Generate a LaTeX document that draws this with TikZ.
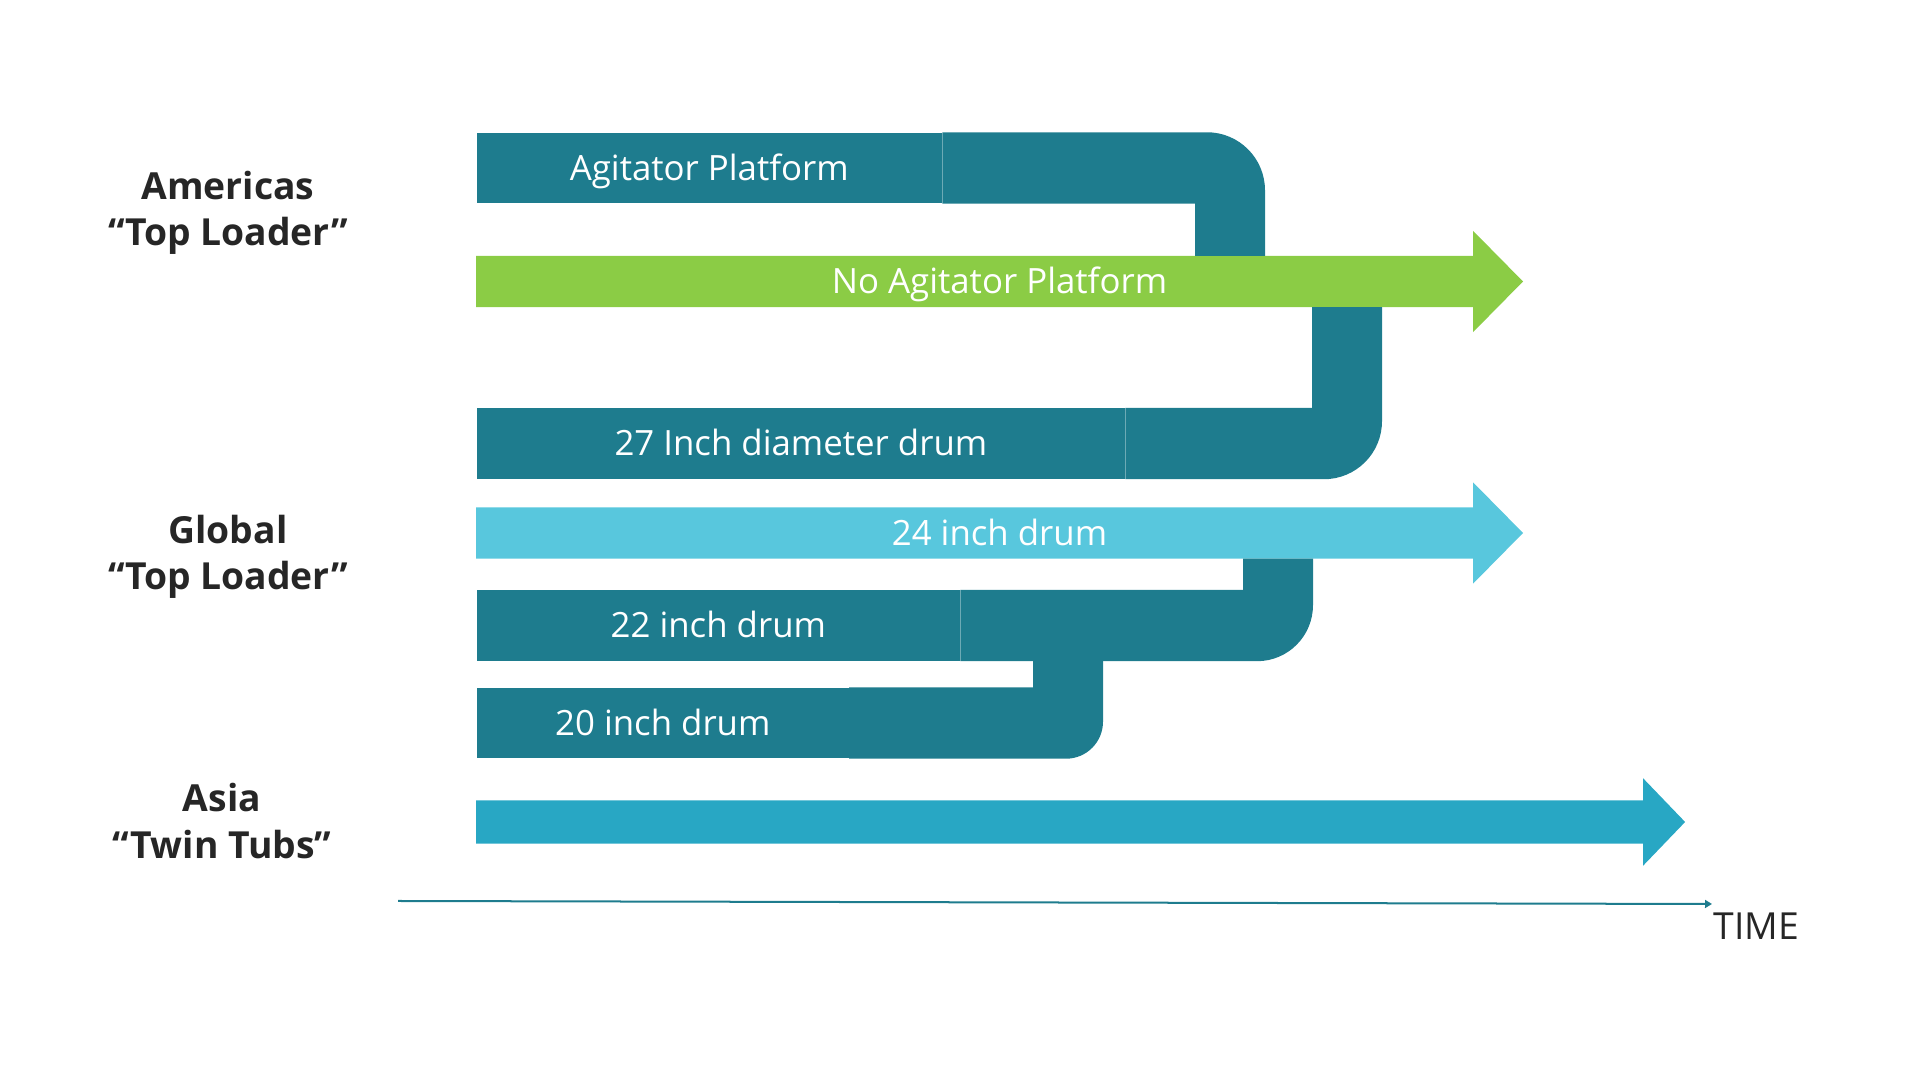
\documentclass[tikz,border=0pt]{standalone}
\usepackage{fontspec}
\setmainfont{Open Sans}
\usetikzlibrary{backgrounds,calc}
\usetikzlibrary{arrows.meta}
\definecolor{pipeteal}{RGB}{30,124,142}
\definecolor{leafgreen}{RGB}{139,204,69}
\definecolor{skycyan}{RGB}{88,199,221}
\definecolor{tubcyan}{RGB}{40,167,196}
\definecolor{labelgray}{RGB}{38,38,38}
\newcommand{\barfont}{\fontsize{9.9}{12}\selectfont}
\newcommand{\flowarrow}[4]{\fill[#2] (#1.south west) -- (#1.north west) -- ($(#1.north east)-(#3,0)$) -- ++(0,#4) -- (#1.east) -- ($(#1.south east)-(#3,#4)$) -- ++(0,#4) -- cycle;}
\newcommand{\pipedown}[5]{\fill[pipeteal] ($(#1.south east)-(0.4,0)$) -- ($(#1.north east)-(0.4,0)$) -- ($(#1.north -| #4)-(#5,0)$) arc[start angle=90, end angle=0, radius=#5] -- (#2.north -| #4) -- (#2.north -| #3) -- (#1.south -| #3) -- cycle;}
\newcommand{\pipeup}[5]{\fill[pipeteal] ($(#1.north east)-(0.4,0)$) -- (#1.north -| #3) -- (#2.south -| #3) -- (#2.south -| #4) -- ($(#1.south -| #4)+(0,#5)$) arc[start angle=0, end angle=-90, radius=#5] -- ($(#1.south east)-(0.4,0)$) -- cycle;}

\begin{document}
\begin{tikzpicture}[x=0.01cm, y=0.01cm, every node/.style={inner sep=0pt, anchor=west},
 bar/.style={fill=pipeteal, text=white, font=\barfont, minimum height=0.7cm, text height=0.3cm, text depth=0.05cm},
 flow/.style={text=white, font=\barfont, minimum height=0.5cm, text height=0.3cm, text depth=0.05cm},
 region/.style={anchor=center, align=center, text=labelgray, font=\bfseries\fontsize{10.6}{13.1}\selectfont}]
 \useasboundingbox (0,0) rectangle (1920,-1080);

 \node[region] (amer) at (228,-213) {Americas\\“Top Loader”};
 \node[region] (glob) at (228,-557) {Global\\“Top Loader”};
 \node[region] (asia) at (222,-821) {Asia\\“Twin Tubs”};

 \node[bar, minimum width=4.65cm] (agit) at (476,-168) {Agitator Platform};
 \node[flow, minimum width=10.45cm] (noagit) at (476,-281.5) {No Agitator Platform};
 \node[bar, minimum width=6.48cm] (drum27) at (476,-443.5) {27 Inch diameter drum};
 \node[flow, minimum width=10.45cm] (drum24) at (476,-533) {24 inch drum};
 \node[bar, minimum width=4.83cm] (drum22) at (476,-625.5) {22 inch drum};
 \node[bar, minimum width=3.72cm] (drum20) at (476,-723) {20 inch drum};
 \node[flow, minimum width=12.07cm, minimum height=0.42cm] (twin) at (476,-822) {};

 \coordinate (a1) at (1195,0); \coordinate (a2) at (1265,0);
 \coordinate (b1) at (1312,0); \coordinate (b2) at (1382,0);
 \coordinate (c1) at (1243,0); \coordinate (c2) at (1313,0);
 \coordinate (d1) at (1033,0); \coordinate (d2) at (1103,0);

 \begin{scope}[on background layer]
 \flowarrow{noagit}{leafgreen}{50}{25}
 \flowarrow{drum24}{skycyan}{50}{25}
 \flowarrow{twin}{tubcyan}{42}{22}
 \pipedown{agit}{noagit}{a1}{a2}{0.58cm}
 \pipeup{drum27}{noagit}{b1}{b2}{0.58cm}
 \pipeup{drum22}{drum24}{c1}{c2}{0.56cm}
 \pipeup{drum20}{drum22}{d1}{d2}{0.37cm}
 \end{scope}

 % time axis
 \coordinate (t0) at (398,-901);
 \coordinate (t1) at (1712,-904);
 \draw[pipeteal, line width=0.02cm, -{Triangle[length=0.07cm, width=0.08cm]}] (t0) -- (t1);
 \node[anchor=base west, text=labelgray, font=\fontsize{10.6}{12}\selectfont] (time) at (1713,-940) {TIME};
\end{tikzpicture}
\end{document}
